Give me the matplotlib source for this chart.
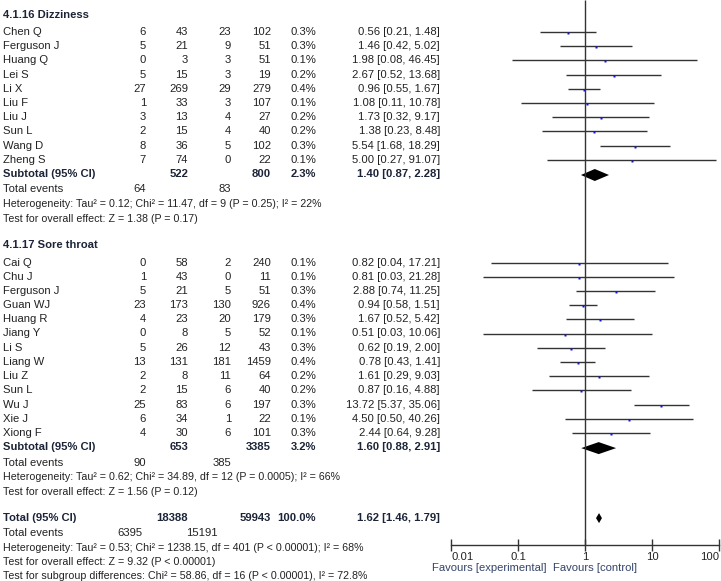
import matplotlib
matplotlib.use("Agg")
import matplotlib.pyplot as plt

plt.rcParams["font.family"] = ["Liberation Sans", "DejaVu Sans"]

W, H = 721, 581
FS = 8.1
FS_LONG = 7.7
TXT = "#222222"
BOLD = "#1c2438"
FAV = "#34446a"

# 4.1.16 Dizziness
diz_study = ["Chen Q", "Ferguson J", "Huang Q", "Lei S", "Li X", "Liu F", "Liu J", "Sun L", "Wang D", "Zheng S"]
diz_exp_events = [6, 5, 0, 5, 27, 1, 3, 2, 8, 7]
diz_exp_total = [43, 21, 3, 15, 269, 33, 13, 15, 36, 74]
diz_ctl_events = [23, 9, 3, 3, 29, 3, 4, 4, 5, 0]
diz_ctl_total = [102, 51, 51, 19, 279, 107, 27, 40, 102, 22]
diz_weight = [0.3, 0.3, 0.1, 0.2, 0.4, 0.1, 0.2, 0.2, 0.3, 0.1]
diz_or = [0.56, 1.46, 1.98, 2.67, 0.96, 1.08, 1.73, 1.38, 5.54, 5.00]
diz_lo = [0.21, 0.42, 0.08, 0.52, 0.55, 0.11, 0.32, 0.23, 1.68, 0.27]
diz_hi = [1.48, 5.02, 46.45, 13.68, 1.67, 10.78, 9.17, 8.48, 18.29, 91.07]
diz_sub = {"exp_total": 522, "ctl_total": 800, "weight": 2.3, "or": 1.40, "lo": 0.87, "hi": 2.28,
           "exp_events": 64, "ctl_events": 83}
diz_het = "Heterogeneity: Tau\u00b2 = 0.12; Chi\u00b2 = 11.47, df = 9 (P = 0.25); I\u00b2 = 22%"
diz_test = "Test for overall effect: Z = 1.38 (P = 0.17)"

# 4.1.17 Sore throat
sore_study = ["Cai Q", "Chu J", "Ferguson J", "Guan WJ", "Huang R", "Jiang Y", "Li S", "Liang W",
              "Liu Z", "Sun L", "Wu J", "Xie J", "Xiong F"]
sore_exp_events = [0, 1, 5, 23, 4, 0, 5, 13, 2, 2, 25, 6, 4]
sore_exp_total = [58, 43, 21, 173, 23, 8, 26, 131, 8, 15, 83, 34, 30]
sore_ctl_events = [2, 0, 5, 130, 20, 5, 12, 181, 11, 6, 6, 1, 6]
sore_ctl_total = [240, 11, 51, 926, 179, 52, 43, 1459, 64, 40, 197, 22, 101]
sore_weight = [0.1, 0.1, 0.3, 0.4, 0.3, 0.1, 0.3, 0.4, 0.2, 0.2, 0.3, 0.1, 0.3]
sore_or = [0.82, 0.81, 2.88, 0.94, 1.67, 0.51, 0.62, 0.78, 1.61, 0.87, 13.72, 4.50, 2.44]
sore_lo = [0.04, 0.03, 0.74, 0.58, 0.52, 0.03, 0.19, 0.43, 0.29, 0.16, 5.37, 0.50, 0.64]
sore_hi = [17.21, 21.28, 11.25, 1.51, 5.42, 10.06, 2.00, 1.41, 9.03, 4.88, 35.06, 40.26, 9.28]
sore_sub = {"exp_total": 653, "ctl_total": 3385, "weight": 3.2, "or": 1.60, "lo": 0.88, "hi": 2.91,
            "exp_events": 90, "ctl_events": 385}
sore_het = "Heterogeneity: Tau\u00b2 = 0.62; Chi\u00b2 = 34.89, df = 12 (P = 0.0005); I\u00b2 = 66%"
sore_test = "Test for overall effect: Z = 1.56 (P = 0.12)"

# Overall
tot = {"exp_total": 18388, "ctl_total": 59943, "weight": 100.0, "or": 1.62, "lo": 1.46, "hi": 1.79,
       "exp_events": 6395, "ctl_events": 15191}
tot_het = "Heterogeneity: Tau\u00b2 = 0.53; Chi\u00b2 = 1238.15, df = 401 (P < 0.00001); I\u00b2 = 68%"
tot_test = "Test for overall effect: Z = 9.32 (P < 0.00001)"
sub_test = "Test for subgroup differences: Chi\u00b2 = 58.86, df = 16 (P < 0.00001), I\u00b2 = 72.8%"

ticks = [0.01, 0.1, 1, 10, 100]
tick_labels = ["0.01", "0.1", "1", "10", "100"]

# column right edges (pixels)
C_EE, C_ET, C_CE, C_CT, C_W, C_CI = 146, 188, 231, 271, 316, 440
STEP = 14.2
AXIS_Y = 545

fig = plt.figure(figsize=(W / 100, H / 100), dpi=100)
ax_t = fig.add_axes([0, 0, 1, 1])
ax_t.set_xlim(0, W)
ax_t.set_ylim(H, 0)
ax_t.axis("off")

ax_f = fig.add_axes([451 / W, 0, (719 - 451) / W, 1])
ax_f.set_xscale("log")
ax_f.set_xlim(0.01, 100)
ax_f.set_ylim(H, 0)
ax_f.patch.set_alpha(0)


def txt(x, y, s, ha="right", bold=False, color=None, size=FS):
    ax_t.text(x, y, s, ha=ha, va="center", fontsize=size,
              fontweight="bold" if bold else "normal",
              color=color or (BOLD if bold else TXT))


def ci_str(o, l, h):
    return f"{o:.2f} [{l:.2f}, {h:.2f}]"


def diamond(y, o, l, h, half):
    ax_f.fill([l, o, h, o], [y, y - half, y, y + half], color="black", lw=0)


def subgroup(y0, title, study, ee, et, ce, ct, wt, orr, lo, hi, sub, het, test):
    txt(3, y0, title, ha="left", bold=True)
    y = y0 + 17
    for i, name in enumerate(study):
        yy = y + i * STEP
        txt(3, yy, name, ha="left")
        txt(C_EE, yy, str(ee[i]))
        txt(C_ET, yy, str(et[i]))
        txt(C_CE, yy, str(ce[i]))
        txt(C_CT, yy, str(ct[i]))
        txt(C_W, yy, f"{wt[i]:.1f}%")
        txt(C_CI, yy, ci_str(orr[i], lo[i], hi[i]))
        ax_f.hlines(yy, lo[i], hi[i], color="#333333", lw=1.0)
        ax_f.plot(orr[i], yy + 1, marker="s", ms=2.0, color="#1010e0", mec="none")
    ys = y + len(study) * STEP
    txt(3, ys, "Subtotal (95% CI)", ha="left", bold=True)
    txt(C_ET, ys, str(sub["exp_total"]), bold=True)
    txt(C_CT, ys, str(sub["ctl_total"]), bold=True)
    txt(C_W, ys, f"{sub['weight']:.1f}%", bold=True)
    txt(C_CI, ys, ci_str(sub["or"], sub["lo"], sub["hi"]), bold=True)
    diamond(ys + 1, sub["or"], sub["lo"], sub["hi"], 6)
    txt(3, ys + 15.5, "Total events", ha="left")
    txt(C_EE, ys + 15.5, str(sub["exp_events"]))
    txt(C_CE, ys + 15.5, str(sub["ctl_events"]))
    txt(3, ys + 30, het, ha="left", size=FS_LONG)
    txt(3, ys + 44.5, test, ha="left", size=FS_LONG)
    return ys + 44.5


end1 = subgroup(15, "4.1.16 Dizziness", diz_study, diz_exp_events, diz_exp_total, diz_ctl_events,
                diz_ctl_total, diz_weight, diz_or, diz_lo, diz_hi, diz_sub, diz_het, diz_test)
end2 = subgroup(end1 + 27, "4.1.17 Sore throat", sore_study, sore_exp_events, sore_exp_total,
                sore_ctl_events, sore_ctl_total, sore_weight, sore_or, sore_lo, sore_hi, sore_sub,
                sore_het, sore_test)

yt = end2 + 26.5
txt(3, yt, "Total (95% CI)", ha="left", bold=True)
txt(C_ET, yt, str(tot["exp_total"]), bold=True)
txt(C_CT, yt, str(tot["ctl_total"]), bold=True)
txt(C_W, yt, f"{tot['weight']:.1f}%", bold=True)
txt(C_CI, yt, ci_str(tot["or"], tot["lo"], tot["hi"]), bold=True)
diamond(yt, tot["or"], tot["lo"], tot["hi"], 5)
txt(3, yt + 15, "Total events", ha="left")
txt(142, yt + 15, str(tot["exp_events"]))
txt(218, yt + 15, str(tot["ctl_events"]))
txt(3, yt + 29.5, tot_het, ha="left", size=FS_LONG)
txt(3, yt + 44, tot_test, ha="left", size=FS_LONG)
txt(3, yt + 58, sub_test, ha="left", size=FS_LONG)

# forest axis
ax_f.vlines(1, 0, AXIS_Y, color="#333333", lw=1.0)
for s in ["top", "right", "left"]:
    ax_f.spines[s].set_visible(False)
ax_f.spines["bottom"].set_position(("data", AXIS_Y))
ax_f.spines["bottom"].set_color("#333333")
ax_f.spines["bottom"].set_linewidth(1.0)
ax_f.set_yticks([])
ax_f.set_xticks(ticks)
ax_f.set_xticklabels(tick_labels)
ax_f.minorticks_off()
ax_f.tick_params(axis="x", direction="inout", length=8, width=1.0, color="#333333",
                 labelsize=FS, labelcolor=TXT, pad=1)
labels = ax_f.get_xticklabels()
labels[0].set_horizontalalignment("left")
labels[-1].set_horizontalalignment("right")

txt(547, 568, "Favours [experimental]", color=FAV)
txt(553, 568, "Favours [control]", ha="left", color=FAV)

fig.savefig("out.png", dpi=100)
